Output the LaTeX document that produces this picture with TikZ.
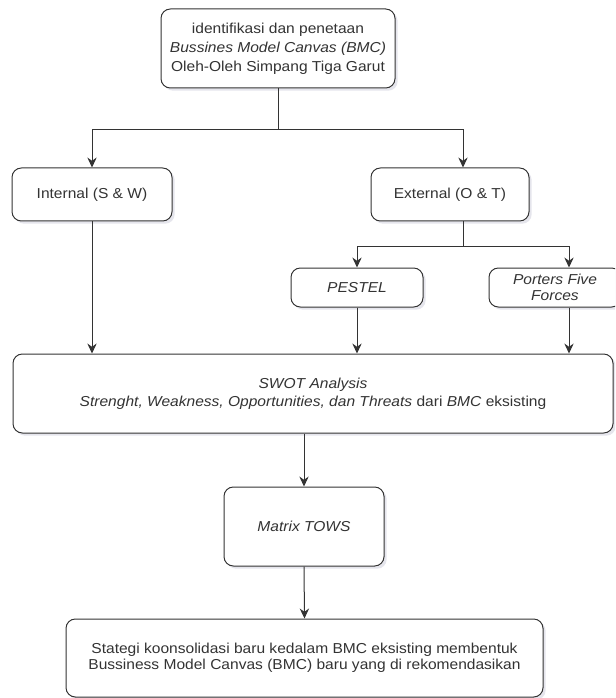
\documentclass[tikz,border=0pt]{standalone}
\usepackage{fontspec}
\setmainfont[FakeStretch=1.08]{Liberation Sans}
\usetikzlibrary{arrows.meta,shadows}
\definecolor{mygaris}{HTML}{333333}
\definecolor{myteks}{HTML}{333333}
\definecolor{mybayang}{HTML}{7F7F9F}

\tikzset{
	kotak/.style={draw=mygaris, line width=0.75pt, rounded corners=7pt, fill=white, align=center, text=myteks,
		font=\fontsize{10.8}{11.8}\selectfont, inner sep=2pt,
		drop shadow={shadow xshift=2pt, shadow yshift=-2pt, opacity=0.2, fill=mybayang}},
	panah/.style={-{Stealth[length=7.5pt,width=7pt,inset=2.5pt]}, line width=0.75pt, draw=mygaris},
	garis/.style={line width=0.75pt, draw=mygaris}
}

\begin{document}
\begin{tikzpicture}[x=0.75pt, y=-0.75pt]
	\useasboundingbox (0,0) rectangle (615,698);
	\clip (0,0) rectangle (615,698);

	\node[kotak, minimum width=175.5pt, minimum height=59.25pt, font=\fontsize{10.8}{14.2}\selectfont] (bmc) at (278,48.5) {identifikasi dan penetaan\\\textit{Bussines Model Canvas (BMC)}\\Oleh-Oleh Simpang Tiga Garut};

	\node[kotak, minimum width=120pt, minimum height=39.75pt] (internal) at (92,194.5) {Internal (S \& W)};
	\node[kotak, minimum width=118.5pt, minimum height=39.75pt] (external) at (450,194.5) {External (O \& T)};

	\node[kotak, minimum width=99pt, minimum height=29.25pt] (pestel) at (357,287.5) {\textit{PESTEL}};
	\node[kotak, minimum width=99pt, minimum height=29.25pt] (porter) at (555,287.5) {\textit{Porters Five}\\\textit{Forces}};

	\node[kotak, minimum width=450pt, minimum height=59.25pt, font=\fontsize{10.8}{13.3}\selectfont] (swot) at (313,393.5) {\textit{SWOT Analysis}\\\textit{Strenght, Weakness, Opportunities, dan Threats} dari \textit{BMC} eksisting};

	\node[kotak, minimum width=120pt, minimum height=59.25pt] (tows) at (304,526.5) {\textit{Matrix TOWS}};

	\node[kotak, minimum width=357.75pt, minimum height=58.5pt] (strategi) at (304.5,658) {Stategi koonsolidasi baru kedalam BMC eksisting membentuk\\Bussiness Model Canvas (BMC) baru yang di rekomendasikan};

	\coordinate (cabang1) at (278,130);
	\coordinate (cabang2) at (463,247);
	\coordinate (cabang3) at (569,247);

	\draw[garis] (bmc.south) -- (cabang1);
	\draw[panah] (cabang1) -| (internal.north);
	\draw[panah] (cabang1) -| (external.north -| cabang2);

	\draw[garis] (external.south -| cabang2) -- (cabang2);
	\draw[panah] (cabang2) -| (pestel.north);
	\draw[panah] (cabang2) -- (cabang3) -- (porter.north -| cabang3);

	\draw[panah] (internal.south) -- (swot.north -| internal.south);
	\draw[panah] (pestel.south) -- (swot.north -| pestel.south);
	\draw[panah] (porter.south -| cabang3) -- (swot.north -| cabang3);

	\draw[panah] (swot.south -| tows.north) -- (tows.north);
	\draw[panah] (tows.south) -- (strategi.north);
\end{tikzpicture}
\end{document}
